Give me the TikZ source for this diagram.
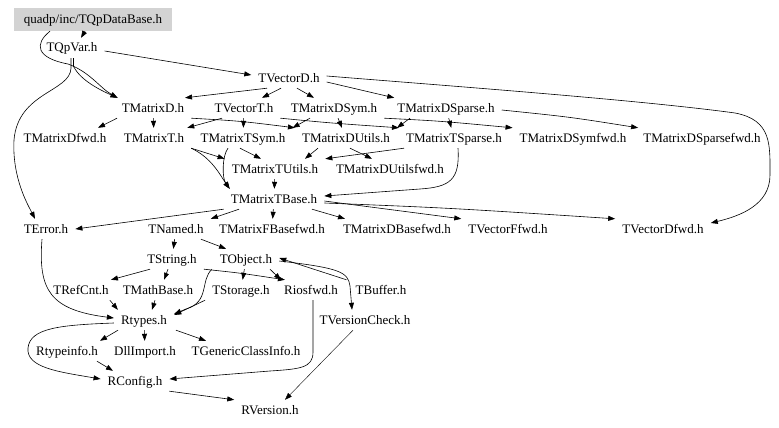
\documentclass[tikz,border=0pt]{standalone}
\usepackage{fontspec}
\setmainfont{Liberation Serif}
\usetikzlibrary{arrows.meta}
\definecolor{hdrgray}{RGB}{211,211,211}
\begin{document}
\begin{tikzpicture}[x=1pt,y=-1pt,
  fn/.style={font=\fontsize{13}{15}\selectfont, inner xsep=7pt, inner ysep=4pt, text height=10pt, text depth=2pt},
  arr/.style={-{Triangle[length=7pt,width=5pt]}, line width=0.6pt, black},
  thin arr/.style={arr, line width=0.4pt}]
\useasboundingbox (0,0) rectangle (779,428);
\fill[white] (0,0) rectangle (779,428);

\node[fn, fill=hdrgray, minimum width=158pt, minimum height=23pt] (db) at (93,19.5) {quadp/inc/TQpDataBase.h};
\node[fn] (qpvar) at (72,48) {TQpVar.h};
\node[fn] (tvd) at (289,78) {TVectorD.h};
\node[fn] (tmd) at (153,108) {TMatrixD.h};
\node[fn] (tvt) at (244,108) {TVectorT.h};
\node[fn] (tmdsym) at (334,108) {TMatrixDSym.h};
\node[fn] (tmdsp) at (446,108) {TMatrixDSparse.h};
\node[fn] (tmdfwd) at (65,138) {TMatrixDfwd.h};
\node[fn] (tmt) at (154,138) {TMatrixT.h};
\node[fn] (tmtsym) at (243,138) {TMatrixTSym.h};
\node[fn] (tmdu) at (346,138) {TMatrixDUtils.h};
\node[fn] (tmtsp) at (454,138) {TMatrixTSparse.h};
\node[fn] (tmdsymfwd) at (573,138) {TMatrixDSymfwd.h};
\node[fn] (tmdspfwd) at (702,138) {TMatrixDSparsefwd.h};
\node[fn] (tmtu) at (275,169) {TMatrixTUtils.h};
\node[fn] (tmdufwd) at (390,169) {TMatrixDUtilsfwd.h};
\node[fn] (tmtb) at (274,199) {TMatrixTBase.h};
\node[fn] (terr) at (46,229) {TError.h};
\node[fn] (tnamed) at (176,229) {TNamed.h};
\node[fn] (tmfb) at (272,229) {TMatrixFBasefwd.h};
\node[fn] (tmdb) at (397,229) {TMatrixDBasefwd.h};
\node[fn] (tvffwd) at (508,229) {TVectorFfwd.h};
\node[fn] (tvdfwd) at (663,229) {TVectorDfwd.h};
\node[fn] (tstring) at (172,259) {TString.h};
\node[fn] (tobject) at (246,259) {TObject.h};
\node[fn] (trefcnt) at (81,290) {TRefCnt.h};
\node[fn] (tmathbase) at (158,290) {TMathBase.h};
\node[fn] (tstorage) at (241,290) {TStorage.h};
\node[fn] (riosfwd) at (311,290) {Riosfwd.h};
\node[fn] (tbuffer) at (381,290) {TBuffer.h};
\node[fn] (rtypes) at (144,320) {Rtypes.h};
\node[fn] (tvc) at (365,320) {TVersionCheck.h};
\node[fn] (rtypeinfo) at (67,351) {Rtypeinfo.h};
\node[fn] (dllimport) at (145,351) {DllImport.h};
\node[fn] (tgci) at (246,351) {TGenericClassInfo.h};
\node[fn] (rconfig) at (135,381) {RConfig.h};
\node[fn] (rversion) at (270,410) {RVersion.h};

% top
\draw[arr] ([xshift=-8pt]db.south) -- ([xshift=9pt]qpvar.north);
\draw[arr] ([xshift=-43pt]db.south) .. controls (34,44) and (36,58) .. (68,64) .. controls (90,72) and (100,88) .. ([xshift=3pt]tmd.north west);
\draw[arr] ([yshift=-3pt]qpvar.east) -- ([yshift=3pt]tvd.west);
\draw[arr] ([xshift=1.5pt]qpvar.south) -- ++(0,8) .. controls (80,80) and (100,90) .. ([xshift=3pt]tmd.north west);
\draw[arr] ([xshift=-1pt]qpvar.south) -- ++(0,10) .. controls (70,92) and (18,92) .. (14,140) .. controls (12,178) and (28,205) .. ([xshift=-11pt]terr.north);

% TVectorD
\draw[arr] ([xshift=-22pt]tvd.south) -- ([xshift=32pt]tmd.north);
\draw[arr] ([xshift=-8pt]tvd.south) -- ([xshift=18pt]tvt.north);
\draw[arr] ([xshift=8pt]tvd.south) -- ([xshift=-20pt]tmdsym.north);
\draw[arr] ([yshift=-4pt]tvd.east) -- ([xshift=4pt]tmdsp.north west);
\draw[arr] ([yshift=2pt]tvd.east) .. controls (450,86) and (640,100) .. (735,113) .. controls (772,120) and (770,145) .. (770,175) .. controls (770,205) and (740,216) .. ([yshift=6pt]tvdfwd.east);

% row 3 -> row 4
\draw[arr] ([xshift=-36pt]tmd.south) -- ([xshift=33pt]tmdfwd.north);
\draw[arr] (tmd) -- (tmt);
\draw[arr] (tmd.south east) .. controls (240,121) .. (tmdu.north west);
\draw[arr] ([xshift=-22pt]tvt.south) -- ([xshift=-4pt]tmt.north east);
\draw[arr] (tvt) -- (tmtsym);
\draw[arr] (tvt.south east) .. controls (330,123) .. (tmtsp.north west);
\draw[arr] ([xshift=-24pt]tmdsym.south) -- (tmtsym.north east);
\draw[arr] (tmdsym) -- (tmdu);
\draw[arr] (tmdsym.south east) .. controls (440,121) .. (tmdsymfwd.north west);
\draw[arr] ([xshift=-36pt]tmdsp.south) -- (tmdu.north east);
\draw[arr] (tmdsp) -- (tmtsp);
\draw[arr] ([yshift=-2pt]tmdsp.east) .. controls (570,117) .. ([xshift=2pt]tmdspfwd.north west);

% row 4 -> TMatrixTUtils / TMatrixTBase
\draw[arr] (tmt.south east) -- (tmtu.north west);
\draw[arr] (tmt.south east) .. controls (212,158) and (220,175) .. ([xshift=6pt]tmtb.north west);
\draw[arr] ([xshift=-15pt]tmtsym.south) .. controls (222,156) and (222,178) .. ([xshift=6pt]tmtb.north west);
\draw[arr] ([xshift=-3pt]tmtsym.south) -- ([xshift=-14pt]tmtu.north);
\draw[arr] ([xshift=-28pt]tmdu.south) -- ([xshift=30pt]tmtu.north);
\draw[arr] ([xshift=4pt]tmdu.south) -- ([xshift=-18pt]tmdufwd.north);
\draw[arr] ([xshift=-50pt]tmtsp.south) -- (tmtu.north east);
\draw[arr] ([xshift=4pt]tmtsp.south) .. controls (460,180) and (450,187) .. (420,189) -- ([yshift=3pt]tmtb.east);
\draw[arr] (tmtu) -- (tmtb);

% TMatrixTBase
\draw[arr] (tmtb.south west) -- (terr.east);
\draw[arr] ([xshift=-35pt]tmtb.south) -- (tnamed.north east);
\draw[arr] (tmtb) -- (tmfb);
\draw[arr] ([xshift=38pt]tmtb.south) -- ([xshift=-52pt]tmdb.north);
\draw[arr] ([yshift=-2pt]tmtb.east) -- (tvffwd.north west);
\draw[arr] ([yshift=-4pt]tmtb.east) .. controls (450,208) .. (tvdfwd.north west);

% lower part
\draw[arr] ([xshift=-4pt]terr.south) .. controls (38,290) and (50,310) .. ([yshift=2pt]rtypes.west);
\draw[arr] (tnamed) -- (tstring);
\draw[arr] ([xshift=25pt]tnamed.south) -- ([xshift=-20pt]tobject.north);
\draw[arr] ([xshift=-22pt]tstring.south) -- ([xshift=30pt]trefcnt.north);
\draw[arr] ([xshift=-4pt]tstring.south) -- ([xshift=6pt]tmathbase.north);
\draw[arr] (tstring.south east) .. controls (240,273) .. ([xshift=8pt]riosfwd.north west);
\draw[arr] (tobject) -- (tstorage);
\draw[arr] ([xshift=24pt]tobject.south) -- ([xshift=4pt]riosfwd.north west);
\draw[arr] ([xshift=-34pt]tobject.south) .. controls (200,280) and (210,302) .. (186,309) -- ([yshift=6pt]rtypes.east);
\draw[arr] (tstorage.south west) -- ([yshift=5pt]rtypes.east);
\draw[arr] ([yshift=-2pt]tobject.east) .. controls (340,268) and (348,272) .. (350,286) -- ([xshift=-13pt]tvc.north);
\draw[arr] ([xshift=-2pt]tbuffer.north west) -- ([yshift=1pt]tobject.east);
\draw[arr] ([xshift=-6pt]trefcnt.south east) -- ([xshift=4pt]rtypes.north west);
\draw[arr] ([xshift=-3pt]tmathbase.south) -- ([xshift=8pt]rtypes.north);
\draw[arr] ([xshift=2pt]riosfwd.south) -- ++(0,52) .. controls (313,368) and (300,369) .. (270,371) -- ([yshift=2pt]rconfig.east);
\draw[thin arr] ([xshift=-12pt]tvc.south) -- ([xshift=15pt]rversion.north);
\draw[arr] ([xshift=-26pt]rtypes.south) -- ([xshift=33pt]rtypeinfo.north);
\draw[arr] (rtypes) -- (dllimport);
\draw[arr] ([xshift=32pt]rtypes.south) -- ([xshift=-40pt]tgci.north);
\draw[arr] ([yshift=-3pt]rtypes.west) .. controls (60,325) and (30,328) .. (28,348) .. controls (26,368) and (60,372) .. ([yshift=2pt]rconfig.west);
\draw[arr] ([xshift=30pt]rtypeinfo.south) -- ([xshift=-22pt]rconfig.north);
\draw[arr] (rconfig.south east) -- (rversion.north west);
\end{tikzpicture}
\end{document}
